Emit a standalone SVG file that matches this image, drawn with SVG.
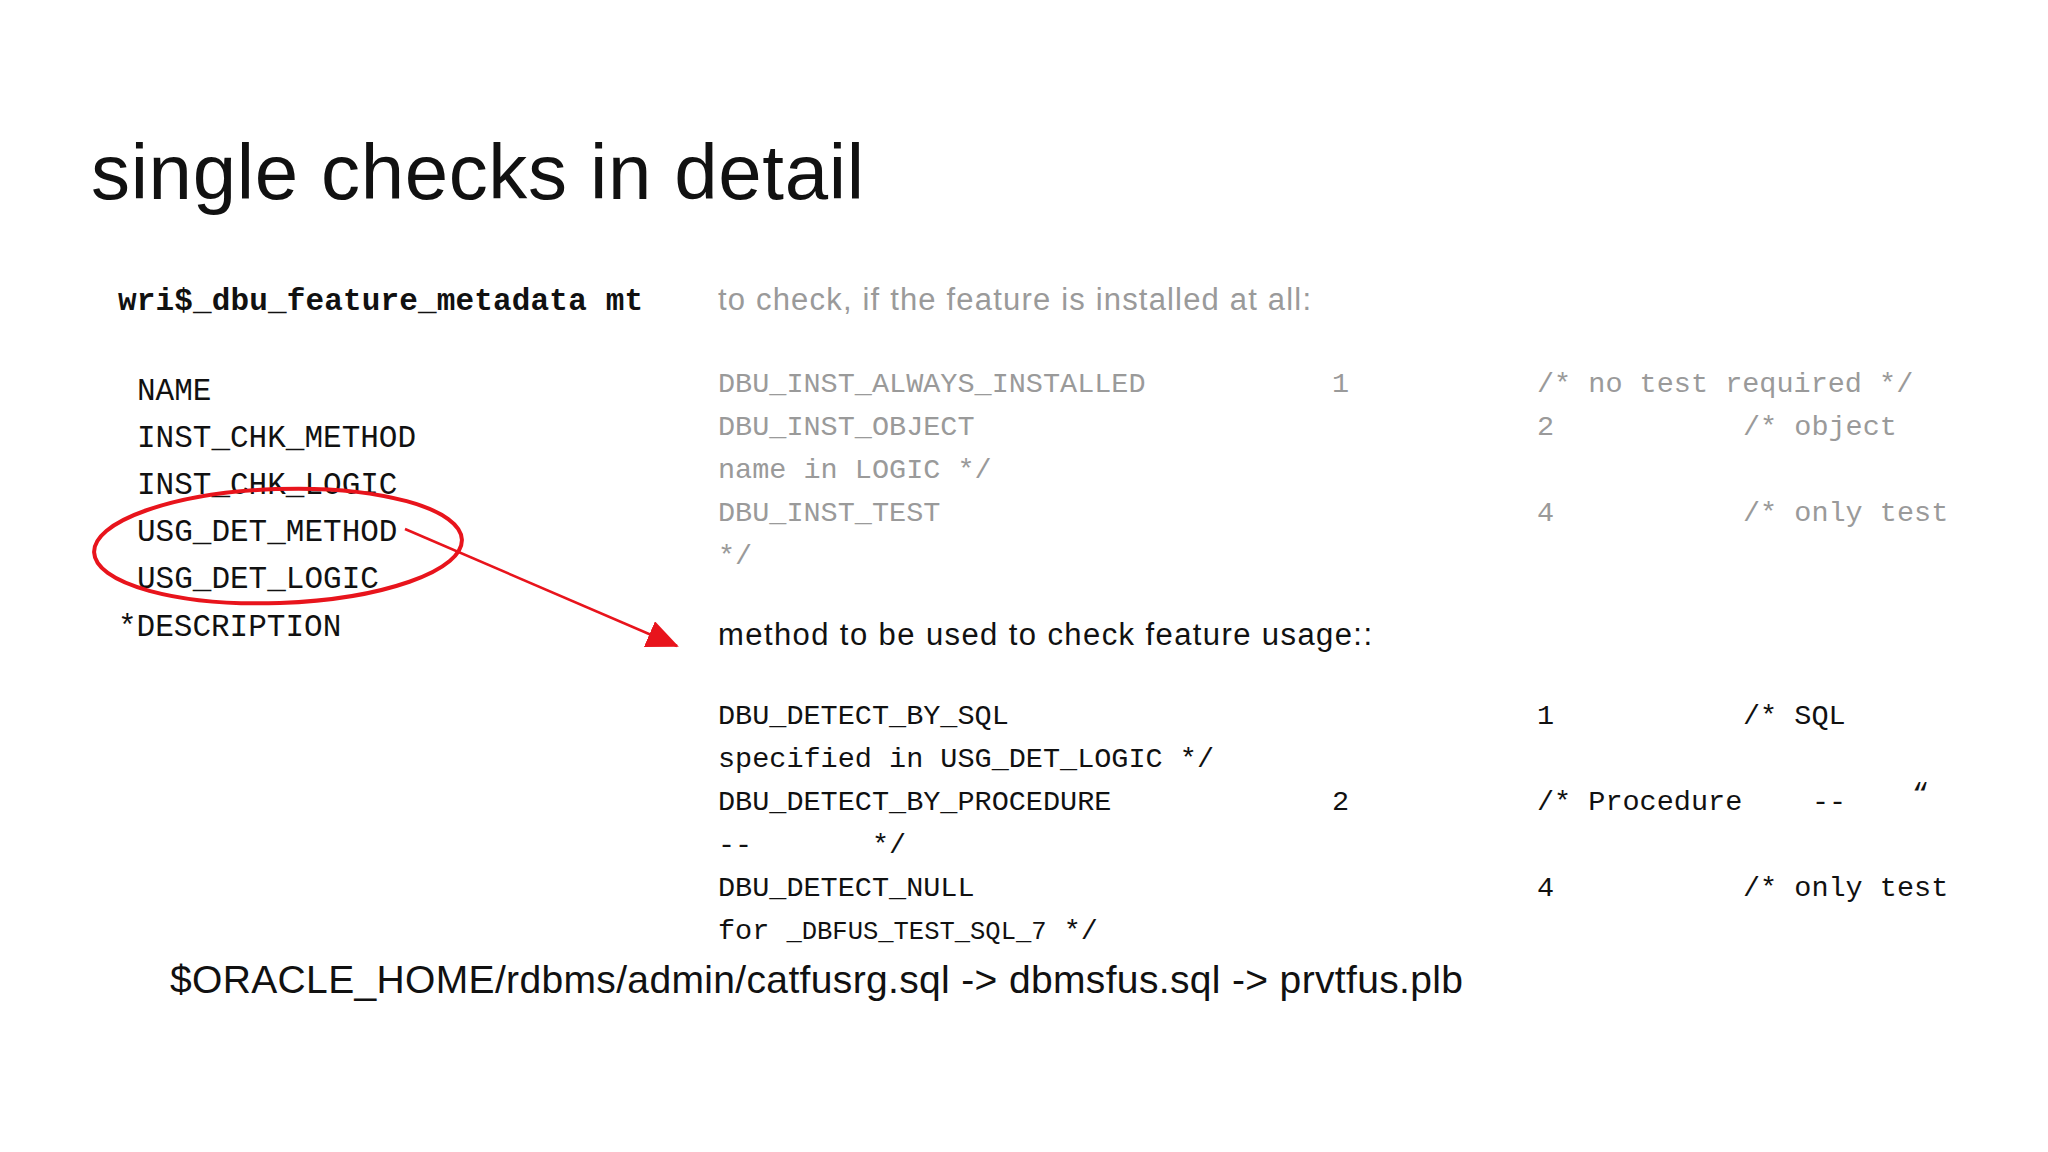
<svg xmlns="http://www.w3.org/2000/svg" width="2048" height="1152" viewBox="0 0 2048 1152">
<style>
.s{font-family:"Liberation Sans",Arial,sans-serif}
.m{font-family:"Liberation Mono","DejaVu Sans Mono",monospace;font-size:28.5px}
.g{fill:#9a9a9a}
.k{fill:#111}
</style>
<defs><marker id="ah" markerWidth="32" markerHeight="28" refX="30" refY="14" orient="auto" markerUnits="userSpaceOnUse" viewBox="0 0 32 28"><path d="M0,0L32,14L0,28z" fill="#e8141c"/></marker></defs>
<rect width="2048" height="1152" fill="#fff"/>
<g id="title"><text class="s k" x="91" y="199" font-size="78" textLength="773">single checks in detail</text></g>
<g id="left">
<text class="k" x="118" y="310" font-family="Liberation Mono,monospace" font-size="31" font-weight="bold" textLength="525">wri$_dbu_feature_metadata mt</text>
<g font-family="Liberation Mono,monospace" font-size="31" fill="#111">
<text x="137" y="400">NAME</text>
<text x="137" y="447">INST_CHK_METHOD</text>
<text x="137" y="494">INST_CHK_LOGIC</text>
<text x="137" y="541">USG_DET_METHOD</text>
<text x="137" y="588">USG_DET_LOGIC</text>
<text x="118" y="636">*DESCRIPTION</text>
</g>
</g>
<g id="install">
<text class="s g" x="718" y="310" font-size="31" textLength="593">to check, if the feature is installed at all:</text>
<g class="m g">
<text x="718" y="392">DBU_INST_ALWAYS_INSTALLED</text><text x="1332" y="392">1</text><text x="1537" y="392">/* no test required */</text>
<text x="718" y="435">DBU_INST_OBJECT</text><text x="1537" y="435">2</text><text x="1743" y="435">/* object</text>
<text x="718" y="478">name in LOGIC */</text>
<text x="718" y="521">DBU_INST_TEST</text><text x="1537" y="521">4</text><text x="1743" y="521">/* only test</text>
<text x="718" y="564">*/</text>
</g>
</g>
<g id="usage">
<text class="s k" x="718" y="645" font-size="31" textLength="654">method to be used to check feature usage::</text>
<g class="m k">
<text x="718" y="724">DBU_DETECT_BY_SQL</text><text x="1537" y="724">1</text><text x="1743" y="724">/* SQL</text>
<text x="718" y="767">specified in USG_DET_LOGIC */</text>
<text x="718" y="810">DBU_DETECT_BY_PROCEDURE</text><text x="1332" y="810">2</text><text x="1537" y="810">/* Procedure</text><text x="1812" y="810">--</text><text x="1912" y="802">“</text>
<text x="718" y="853">--</text><text x="872" y="853">*/</text>
<text x="718" y="896">DBU_DETECT_NULL</text><text x="1537" y="896">4</text><text x="1743" y="896">/* only test</text>
<text x="718" y="939">for <tspan font-size="25.5">_DBFUS_TEST_SQL_7</tspan> */</text>
</g>
</g>
<g id="path"><text class="s k" x="170" y="993" font-size="39" textLength="1293">$ORACLE_HOME/rdbms/admin/catfusrg.sql -&gt; dbmsfus.sql -&gt; prvtfus.plb</text></g>
<g id="connectors" stroke="#e8141c" fill="none">
<ellipse cx="278" cy="546" rx="184" ry="57" stroke-width="4" transform="rotate(-2 278 546)"/>
<line x1="405" y1="529" x2="677" y2="646" stroke-width="2.5" marker-end="url(#ah)"/>
</g>
</svg>
